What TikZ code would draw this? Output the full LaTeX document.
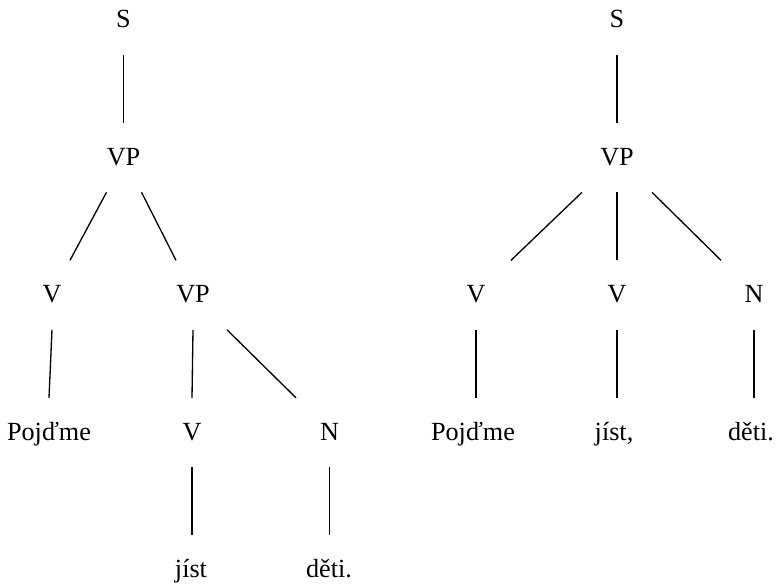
\documentclass[tikz,border=0pt]{standalone}
\usepackage{fontspec}
\setmainfont{Liberation Serif}
\begin{document}
\begin{tikzpicture}[scale=1,inner sep=0pt,outer sep=0pt,line width=0.75pt,
tnode/.style={anchor=base,text height=0.844cm,text depth=0.546cm,font=\fontsize{14.9}{18}\selectfont}]

\useasboundingbox (0,0) rectangle (15.56,-11.68);

% left tree
\draw (2.47,-0.55) node[tnode] (S1) {S};
\draw (2.47,-3.3) node[tnode] (VP1) {VP};
\draw (1.04,-6.05) node[tnode] (V1) {V};
\draw (3.86,-6.05) node[tnode] (VP2) {VP};
\draw (0.98,-8.8) node[tnode] (Pojdme1) {Pojďme};
\draw (3.84,-8.8) node[tnode] (V2) {V};
\draw (6.59,-8.8) node[tnode] (N1) {N};
\draw (3.82,-11.55) node[tnode] (jist1) {jíst};
\draw (6.58,-11.55) node[tnode] (deti1) {děti.};
\draw (S1.south) -- (VP1.north);
\draw ([xshift=-0.34cm]VP1.south) -- ([xshift=0.36cm]V1.north);
\draw ([xshift=0.36cm]VP1.south) -- ([xshift=-0.34cm]VP2.north);
\draw (V1.south) -- (Pojdme1.north);
\draw (VP2.south) -- (V2.north);
\draw ([xshift=0.68cm]VP2.south) -- ([xshift=-0.67cm]N1.north);
\draw (V2.south) -- (V2.south |- jist1.north);
\draw (N1.south) -- (N1.south |- deti1.north);

% right tree
\draw (12.34,-0.55) node[tnode] (S2) {S};
\draw (12.34,-3.3) node[tnode] (VP3) {VP};
\draw (9.52,-6.05) node[tnode] (V3) {V};
\draw (12.34,-6.05) node[tnode] (V4) {V};
\draw (15.08,-6.05) node[tnode] (N2) {N};
\draw (9.46,-8.8) node[tnode] (Pojdme2) {Pojďme};
\draw (12.28,-8.8) node[tnode] (jist2) {jíst,};
\draw (15.02,-8.8) node[tnode] (deti2) {děti.};
\draw (S2.south) -- (VP3.north);
\draw ([xshift=-0.7cm]VP3.south) -- ([xshift=0.7cm]V3.north);
\draw (VP3.south) -- (V4.north);
\draw ([xshift=0.7cm]VP3.south) -- ([xshift=-0.66cm]N2.north);
\draw (V3.south) -- (V3.south |- Pojdme2.north);
\draw (V4.south) -- (V4.south |- jist2.north);
\draw (N2.south) -- (N2.south |- deti2.north);
\end{tikzpicture}
\end{document}
